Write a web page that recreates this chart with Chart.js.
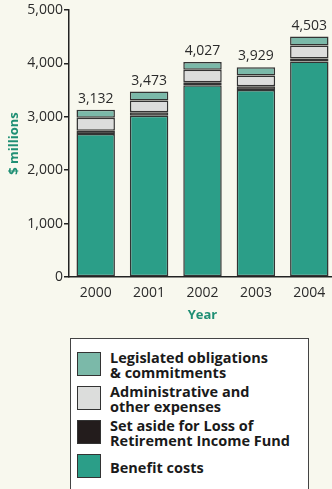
<!DOCTYPE html>
<html>
<head>
<meta charset="utf-8">
<script src="https://cdn.jsdelivr.net/npm/chart.js@4.4.1/dist/chart.umd.min.js"></script>
<style>
  html, body { margin: 0; padding: 0; background: #f8f8ee; overflow: hidden; }
  #wrap { position: relative; width: 340px; height: 489px; }
  #myChart { position: absolute; left: 0; top: 0; }
  #legend {
    position: absolute; left: 70px; top: 338px; width: 239px; height: 170px;
    box-sizing: border-box; border: 1.5px solid #444; background: #fff;
    padding-top: 8px;
    font-family: "Open Sans", sans-serif; font-weight: 700; font-size: 14.5px;
    line-height: 15px; color: #1a1a1a;
  }
  .item { display: flex; align-items: center; height: 34px; }
  .sw { width: 24px; height: 24px; box-sizing: border-box; border: 1.5px solid #333;
        margin-left: 6px; margin-right: 9px; flex: none; }
  .txt { padding-top: 2px; }
</style>
</head>
<body>
<div id="wrap">
  <canvas id="myChart" width="340" height="330"></canvas>
  <div id="legend"></div>
</div>
<script>
var years = ['2000', '2001', '2002', '2003', '2004'];
var benefitCosts = [2677, 3020, 3590, 3504, 4036];
var setAside = [62, 67, 56, 69, 56];
var adminExpenses = [243, 218, 237, 199, 243];
var legislated = [150, 168, 144, 157, 168];
var totals = [3132, 3473, 4027, 3929, 4503];
var yTicks = [0, 1000, 2000, 3000, 4000, 5000];

var labelBenefit = ['Benefit costs'];
var labelSetAside = ['Set aside for Loss of', 'Retirement Income Fund'];
var labelAdmin = ['Administrative and', 'other expenses'];
var labelLegislated = ['Legislated obligations', '& commitments'];

var tealTitle = '#1f8f74';
var border = '#333333';

// totals written above each bar
var totalsPlugin = {
    id: 'totals',
    afterDatasetsDraw: function(chart) {
        var ctx = chart.ctx;
        var meta = chart.getDatasetMeta(chart.data.datasets.length - 1);
        ctx.save();
        ctx.font = '14px "Open Sans"';
        ctx.fillStyle = '#2b2b2b';
        ctx.textAlign = 'center';
        ctx.textBaseline = 'middle';
        meta.data.forEach(function(bar, i) {
            ctx.fillText(totals[i].toLocaleString('en-US'), bar.x, bar.y - 11);
        });
        ctx.restore();
    }
};

function ds(label, data, color) {
    return {
        label: label.join(' '),
        data: data,
        backgroundColor: color,
        borderColor: border,
        borderWidth: 1.5,
        borderSkipped: false,
        barPercentage: 0.72,
        categoryPercentage: 1
    };
}

var ctx = document.getElementById('myChart').getContext('2d');
var myChart = new Chart(ctx, {
    type: 'bar',
    data: {
        labels: years,
        datasets: [
            ds(labelBenefit, benefitCosts, '#2b9e88'),
            ds(labelSetAside, setAside, '#231c1c'),
            ds(labelAdmin, adminExpenses, '#dcdddc'),
            ds(labelLegislated, legislated, '#7bb9a9')
        ]
    },
    options: {
        responsive: false,
        animation: false,
        layout: { padding: { top: 10, right: 4, left: 0, bottom: 0 } },
        plugins: { legend: { display: false }, tooltip: { enabled: false } },
        scales: {
            x: {
                stacked: true,
                grid: { display: true, drawOnChartArea: false, drawTicks: false },
                border: { color: '#222', width: 1.5 },
                ticks: { color: '#2b2b2b', font: { family: 'Open Sans', size: 14 }, padding: 8 },
                title: { display: true, text: 'Year', color: tealTitle,
                         font: { family: 'Open Sans', size: 13, weight: 'bold' },
                         padding: { top: 0, bottom: 7 } },
                afterFit: function(scale) { scale.height = 53; }
            },
            y: {
                stacked: true,
                min: 0,
                max: 5000,
                afterBuildTicks: function(scale) {
                    scale.ticks = yTicks.map(function(v) { return { value: v }; });
                },
                grid: { drawOnChartArea: false, drawTicks: true, tickLength: 5, color: '#222', lineWidth: 1.5 },
                border: { color: '#222', width: 1.5 },
                ticks: {
                    color: '#2b2b2b', font: { family: 'Open Sans', size: 14 }, padding: 1,
                    callback: function(v) { return v.toLocaleString('en-US'); }
                },
                title: { display: true, text: '$ millions', color: tealTitle,
                         font: { family: 'Open Sans', size: 13, weight: 'bold' },
                         padding: { top: 6, bottom: 0 } },
                afterFit: function(scale) { scale.width = 69; }
            }
        }
    },
    plugins: [totalsPlugin]
});

// legend, top to bottom as in the original
var legendItems = [
    [labelLegislated, '#7bb9a9'],
    [labelAdmin, '#dcdddc'],
    [labelSetAside, '#231c1c'],
    [labelBenefit, '#2b9e88']
];
var legend = document.getElementById('legend');
legendItems.forEach(function(it) {
    var row = document.createElement('div');
    row.className = 'item';
    var sw = document.createElement('div');
    sw.className = 'sw';
    sw.style.background = it[1];
    var txt = document.createElement('div');
    txt.className = 'txt';
    txt.innerHTML = it[0].join('<br>');
    row.appendChild(sw);
    row.appendChild(txt);
    legend.appendChild(row);
});
</script>
</body>
</html>
